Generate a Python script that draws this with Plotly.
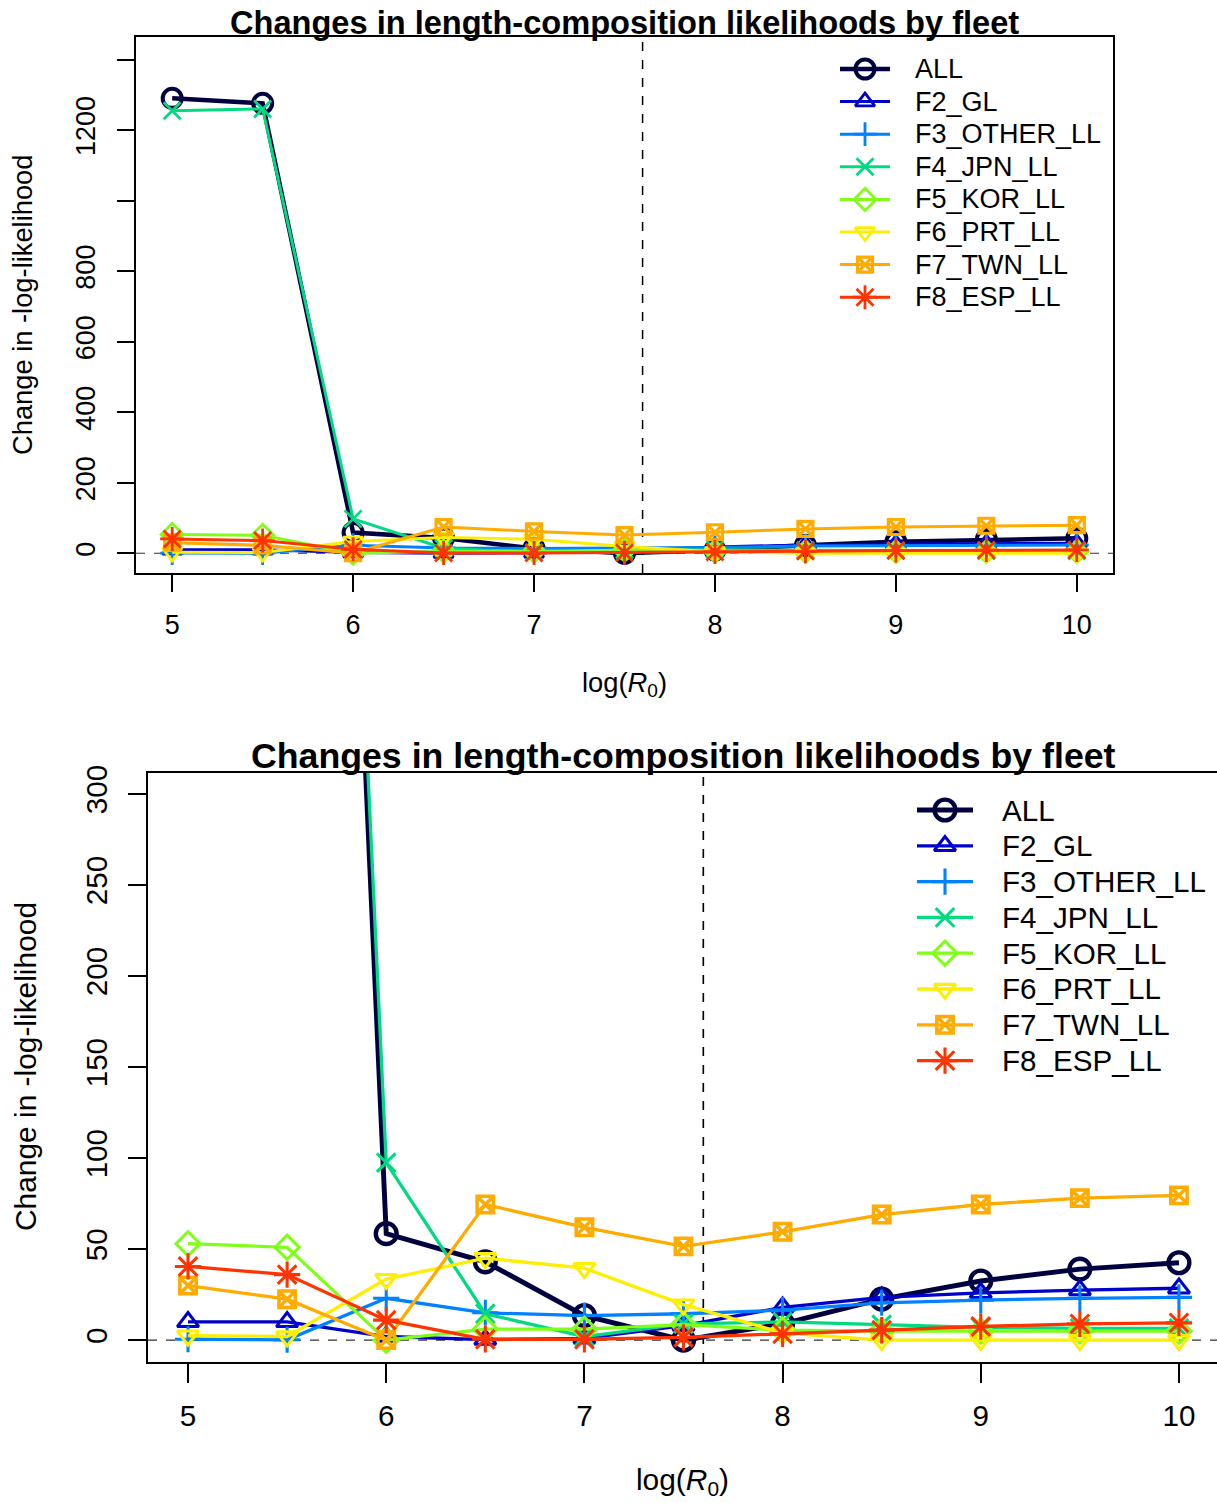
import plotly.graph_objects as go

# ---------------- data ----------------
x_logR0 = [5, 5.5, 6, 6.5, 7, 7.5, 8, 8.5, 9, 9.5, 10]
series_names = ["ALL", "F2_GL", "F3_OTHER_LL", "F4_JPN_LL", "F5_KOR_LL",
                "F6_PRT_LL", "F7_TWN_LL", "F8_ESP_LL"]
ALL = [1290, 1276, 58.5, 43, 13.5, 0, 9, 22.5, 32.5, 39, 42.5]
F2_GL = [10, 10, 2, 0.3, 1, 8, 18, 23.5, 26, 27.5, 28.5]
F3_OTHER_LL = [0.5, 0.2, 23, 15, 13.5, 14.5, 16.5, 20.5, 22, 23, 23.5]
F4_JPN_LL = [1255, 1260, 97.5, 14.5, 2, 9, 10, 8.5, 7, 6.5, 6.5]
F5_KOR_LL = [53, 51, 0, 6, 6, 8.5, 5.5, 5, 5, 5, 5]
F6_PRT_LL = [2.5, 2, 33.5, 45, 39.5, 19.5, 4, 0, 0, 0, 0]
F7_TWN_LL = [30, 22.5, 0, 74.5, 62, 51.5, 59.5, 69, 74.5, 78, 79.5]
F8_ESP_LL = [40.5, 36, 11, 0.5, 0.5, 1.5, 3.5, 5.5, 7.5, 9, 9.5]
series_values = [ALL, F2_GL, F3_OTHER_LL, F4_JPN_LL, F5_KOR_LL,
                 F6_PRT_LL, F7_TWN_LL, F8_ESP_LL]
ref_logR0 = 7.6
x_ticks = [5, 6, 7, 8, 9, 10]
y_ticks_top = [0, 200, 400, 600, 800, 1200]
y_minor_top = [1000, 1400]
y_ticks_bot = [0, 50, 100, 150, 200, 250, 300]

# ---------------- styles ----------------
colors = ["#000041", "#0000CB", "#0081FF", "#02DA81", "#80FE1A",
          "#FDEE02", "#FFAB00", "#FF3300"]
symbols = ["circle-open", "triangle-up-open", "cross-thin-open", "x-thin-open",
           "diamond-open", "triangle-down-open", "square-x-open", "asterisk-open"]

W, H = 1217, 1503
FONT = "Liberation Sans, Arial, sans-serif"
CLEAR = "rgba(0,0,0,0)"


def fx(p):
    return p / W


def fy(p):
    return 1 - p / H


def style(i, s):
    is_all = (i == 0)
    lw = (4.5 if is_all else 3.0) * s
    msize = (19 if is_all else 17) * s
    mlw = (4.0 if is_all else 2.8) * s
    if symbols[i] == "square-x-open":
        msize = 15 * s
        mlw = 3.2 * s
    if symbols[i] == "asterisk-open":
        msize = 20 * s
    return lw, msize, mlw


fig = go.Figure()

panels = [
    dict(xa="x", ya="y", scale=1.0,
         leg=dict(x0=840, x1=890, xt=913, y0=69, dy=32.6, fs=27)),
    dict(xa="x2", ya="y2", scale=1.095,
         leg=dict(x0=917, x1=973, xt=1000, y0=810, dy=35.8, fs=29.6)),
]

for pnl in panels:
    s = pnl["scale"]
    for i, (name, vals) in enumerate(zip(series_names, series_values)):
        lw, msize, mlw = style(i, s)
        fig.add_trace(go.Scatter(
            x=x_logR0, y=vals, name=name, mode="lines+markers",
            xaxis=pnl["xa"], yaxis=pnl["ya"], showlegend=False,
            line=dict(color=colors[i], width=lw),
            marker=dict(symbol=symbols[i], size=msize, color=colors[i],
                        line=dict(color=colors[i], width=mlw)),
        ))

# ---- legend keys drawn in a pixel-space overlay (keys only, not data) ----
for pnl in panels:
    s = pnl["scale"]
    L = pnl["leg"]
    for i, name in enumerate(series_names):
        lw, msize, mlw = style(i, s)
        yy = L["y0"] + L["dy"] * i
        fig.add_trace(go.Scatter(
            x=[L["x0"], L["x1"]], y=[yy, yy], mode="lines",
            xaxis="x3", yaxis="y3", showlegend=False, hoverinfo="skip",
            line=dict(color=colors[i], width=lw)))
        fig.add_trace(go.Scatter(
            x=[(L["x0"] + L["x1"]) / 2], y=[yy], mode="markers",
            xaxis="x3", yaxis="y3", showlegend=False, hoverinfo="skip",
            marker=dict(symbol=symbols[i], size=msize, color=colors[i],
                        line=dict(color=colors[i], width=mlw))))
        fig.add_annotation(text=name, xref="paper", yref="paper",
                           x=fx(L["xt"]), y=fy(yy), xanchor="left",
                           yanchor="middle", showarrow=False,
                           font=dict(size=L["fs"], family=FONT))

axis_common = dict(showgrid=False, zeroline=False, showline=True,
                   linecolor="black", linewidth=2, ticks="outside",
                   tickcolor="black", tickwidth=2, automargin=False)

xlab = "log(<i>R</i><sub>0</sub>)"
ylab = "Change in -log-likelihood"

fig.update_layout(
    width=W, height=H, margin=dict(l=0, r=0, t=0, b=0, autoexpand=False),
    paper_bgcolor="white", plot_bgcolor=CLEAR,
    font=dict(family=FONT, color="black"),
    showlegend=False,
    xaxis=dict(domain=[fx(136), fx(1113)], range=[4.8, 10.2], anchor="y",
               tickvals=x_ticks, mirror=True, ticklen=17,
               tickfont=dict(size=27), ticklabelstandoff=10,
               title=dict(text=xlab, font=dict(size=27.3), standoff=33),
               **axis_common),
    yaxis=dict(domain=[fy(573), fy(37)], range=[-56, 1464], anchor="x",
               tickvals=y_ticks_top, mirror=True,
               ticklen=17, tickangle=-90, tickfont=dict(size=27),
               ticklabelstandoff=11,
               minor=dict(tickvals=y_minor_top, ticks="outside", ticklen=17,
                          tickwidth=2, tickcolor="black"),
               **axis_common),
    xaxis2=dict(domain=[fx(148), 1.0], range=[4.798, 10.192], anchor="y2",
                tickvals=x_ticks, mirror=True, ticklen=18.5,
                tickfont=dict(size=29.6), ticklabelstandoff=8,
                title=dict(text=xlab, font=dict(size=29.9), standoff=38),
                **axis_common),
    yaxis2=dict(domain=[fy(1362), fy(773)], range=[-12, 311.5], anchor="x2",
                tickvals=y_ticks_bot, mirror=False, ticklen=18.5,
                tickangle=-90, tickfont=dict(size=29.6),
                ticklabelstandoff=9,
                **axis_common),
    xaxis3=dict(domain=[0, 1], range=[0, W], anchor="y3", visible=False,
                fixedrange=True, automargin=False),
    yaxis3=dict(domain=[0, 1], range=[H, 0], anchor="x3", visible=False,
                fixedrange=True, automargin=False),
)

# reference lines (dashed)
for xa, ya, s in [("x", "y", 1.0), ("x2", "y2", 1.095)]:
    fig.add_shape(type="line", xref=f"{xa} domain", yref=ya, x0=0, x1=1,
                  y0=0, y1=0, line=dict(color="#333333", width=1.2 * s,
                                         dash="dash"), layer="below")
    fig.add_shape(type="line", xref=xa, yref=f"{ya} domain", x0=ref_logR0,
                  x1=ref_logR0, y0=0, y1=1,
                  line=dict(color="black", width=1.5 * s, dash="dash"),
                  layer="below")

# y-axis labels
fig.add_annotation(text=ylab, xref="paper", yref="paper", textangle=-90,
                   x=fx(22), y=fy(305), xanchor="center", yanchor="middle",
                   showarrow=False, font=dict(size=27.3, family=FONT))
fig.add_annotation(text=ylab, xref="paper", yref="paper", textangle=-90,
                   x=fx(25), y=fy(1067), xanchor="center", yanchor="middle",
                   showarrow=False, font=dict(size=29.9, family=FONT))

# panel titles
title_txt = "<b>Changes in length-composition likelihoods by fleet</b>"
fig.add_annotation(text=title_txt, xref="paper", yref="paper",
                   x=fx(624.5), y=fy(22), xanchor="center", yanchor="middle",
                   showarrow=False, font=dict(size=32.6, family=FONT))
fig.add_annotation(text=title_txt, xref="paper", yref="paper",
                   x=fx(683), y=fy(756), xanchor="center", yanchor="middle",
                   showarrow=False, font=dict(size=35.7, family=FONT))

fig.write_html("out.html")
